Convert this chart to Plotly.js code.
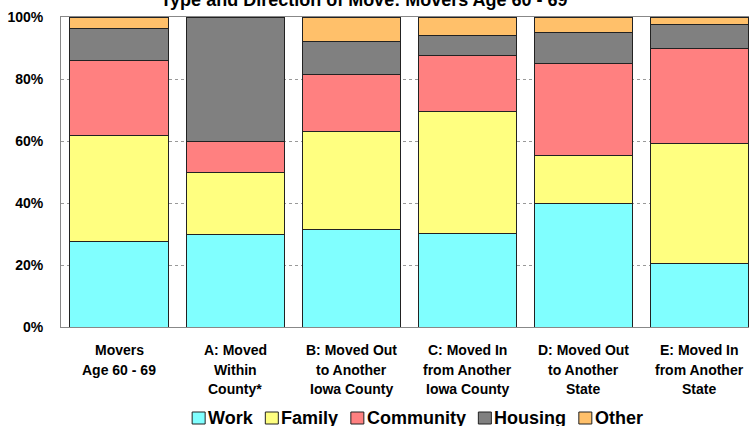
<!DOCTYPE html>
<html>
<head>
<meta charset="utf-8">
<script src="https://cdn.plot.ly/plotly-3.0.1.min.js"></script>
<style>html,body{margin:0;padding:0;background:#fff;overflow:hidden}#chart{width:749px;height:426px}</style>
</head>
<body>
<div id="chart"></div>
<script>
const categories = [
  "Movers<br>Age 60 - 69",
  "A: Moved<br>Within<br>County*",
  "B: Moved Out<br>to Another<br>Iowa County",
  "C: Moved In<br>from Another<br>Iowa County",
  "D: Moved Out<br>to Another<br>State",
  "E: Moved In<br>from Another<br>State"
];
const work      = [27.7, 30.0, 31.6, 30.2, 40.0, 20.5];
const family    = [34.0, 20.0, 31.5, 39.3, 15.2, 38.6];
const community = [24.4, 10.0, 18.4, 18.1, 29.7, 30.6];
const housing   = [10.2, 40.0, 10.6,  6.3, 10.2,  7.8];
const other     = [ 3.7,  0.0,  7.9,  6.1,  4.9,  2.5];
const seriesNames = ["Work", "Family", "Community", "Housing", "Other"];
const seriesValues = [work, family, community, housing, other];
const seriesColors = ["#80FFFF", "#FFFF80", "#FF8080", "#808080", "#FFC06A"];
const yTickVals = [0, 20, 40, 60, 80, 100];
const yTickText = ["0%", "20%", "40%", "60%", "80%", "100%"];
const titleText = "Type and Direction of Move: Movers Age 60 - 69";

const FONT = "Liberation Sans, Arial, sans-serif";
const W = 749, H = 426;
const M = {l: 61, r: 0, t: 17, b: 99};
const PW = W - M.l - M.r, PH = H - M.t - M.b;
const px2x = px => (px - M.l) / PW;
const py2y = py => (H - M.b - py) / PH;

const traces = seriesNames.map((n, i) => ({
  type: "bar",
  name: n,
  x: categories.map((c, k) => k),
  y: seriesValues[i],
  marker: {color: seriesColors[i], line: {color: "#222", width: 1}},
  hoverinfo: "name+y",
  showlegend: false
}));

// category labels: one annotation per line for Excel-like line spacing
const annotations = [];
const LABEL_SIZE = 14, LINE_GAP = 19.5, FIRST_LINE = 350;
categories.forEach((c, k) => {
  c.split("<br>").forEach((line, j) => {
    annotations.push({
      xref: "x", x: k, yref: "paper", y: py2y(FIRST_LINE + j * LINE_GAP),
      yanchor: "middle", xanchor: "center", showarrow: false,
      text: "<b>" + line + "</b>",
      font: {family: FONT, size: LABEL_SIZE, color: "#000"}
    });
  });
});

// legend: measured swatch + text entries, centered below the labels
const LEG_SIZE = 18, SW = 15, SW_GAP = 2, ITEM_GAP = 11.5, LEG_CX = 418, LEG_CY = 418;
const ctx = document.createElement("canvas").getContext("2d");
ctx.font = "bold " + LEG_SIZE + "px 'Liberation Sans', Arial, sans-serif";
const widths = seriesNames.map(n => ctx.measureText(n).width);
const total = widths.reduce((a, b) => a + b, 0) + seriesNames.length * (SW + SW_GAP) + (seriesNames.length - 1) * ITEM_GAP;
let cx = LEG_CX - total / 2;
const shapes = [];
seriesNames.forEach((n, i) => {
  shapes.push({
    type: "rect", xref: "paper", yref: "paper",
    x0: px2x(cx), x1: px2x(cx + SW - 2),
    y0: py2y(LEG_CY - 6), y1: py2y(LEG_CY + 6),
    fillcolor: seriesColors[i], line: {color: "#222", width: 1}
  });
  annotations.push({
    xref: "paper", x: px2x(cx + SW + SW_GAP - 2), xanchor: "left",
    yref: "paper", y: py2y(LEG_CY), yanchor: "middle",
    showarrow: false, borderpad: 0,
    text: "<b>" + n + "</b>",
    font: {family: FONT, size: LEG_SIZE, color: "#000"}
  });
  cx += SW + SW_GAP + widths[i] + ITEM_GAP;
});

const layout = {
  width: W, height: H,
  margin: M,
  paper_bgcolor: "#fff", plot_bgcolor: "#fff",
  barmode: "stack",
  bargap: 0.155,
  font: {family: FONT, color: "#000"},
  title: {
    text: "<b>" + titleText + "</b>",
    font: {family: FONT, size: 18, color: "#000"},
    xref: "container", x: 364 / W, xanchor: "center",
    yref: "container", y: 1, yanchor: "middle"
  },
  xaxis: {
    range: [-0.5, 5.43],
    showline: true, linecolor: "#888", linewidth: 1, mirror: true,
    showgrid: false, zeroline: false, ticks: "", showticklabels: false,
    fixedrange: true
  },
  yaxis: {
    range: [0, 100],
    tickvals: yTickVals, ticktext: yTickText,
    showline: true, linecolor: "#888", linewidth: 1, mirror: true,
    showgrid: true, gridcolor: "#999", griddash: "dot", gridwidth: 1,
    zeroline: false, ticks: "", ticklabelstandoff: 14,
    tickfont: {family: FONT, size: 14, color: "#000", weight: "bold"},
    fixedrange: true
  },
  showlegend: false,
  annotations: annotations,
  shapes: shapes
};
Plotly.newPlot("chart", traces, layout, {displayModeBar: false, staticPlot: true});
</script>
</body>
</html>
